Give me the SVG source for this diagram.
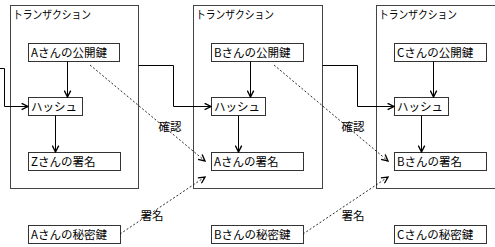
<svg xmlns="http://www.w3.org/2000/svg" width="495" height="247" viewBox="0 0 495 247">
<style>
text{font-family:"Noto Sans CJK JP","Liberation Sans",sans-serif;font-size:11.5px;fill:#000}
.tx{fill:#fff;stroke:#444;stroke-width:1}
.bx{fill:#fff;stroke:#333;stroke-width:1}
.ln{fill:none;stroke:#000;stroke-width:1}
.ds{fill:none;stroke:#111;stroke-width:0.9;stroke-dasharray:2,2}
</style>
<defs>
<marker id="ah" viewBox="0 0 10 10" refX="9" refY="5" markerWidth="8" markerHeight="8" markerUnits="userSpaceOnUse" orient="auto">
<path d="M1,1 L9,5 L1,9" fill="none" stroke="#000" stroke-width="1.7"/>
</marker>
</defs>
<g id="tx1"><rect class="tx" x="10.5" y="5.5" width="128" height="183"/><text x="13" y="19" textLength="78" lengthAdjust="spacingAndGlyphs">トランザクション</text></g>
<g id="tx2"><rect class="tx" x="193.5" y="5.5" width="129" height="183"/><text x="196" y="19" textLength="78" lengthAdjust="spacingAndGlyphs">トランザクション</text></g>
<g id="tx3"><rect class="tx" x="376.5" y="5.5" width="130" height="183"/><text x="379" y="19" textLength="78" lengthAdjust="spacingAndGlyphs">トランザクション</text></g>

<g id="pubA"><rect class="bx" x="28.5" y="43.5" width="91" height="18"/><text x="31" y="57">Aさんの公開鍵</text></g>
<g id="hash1"><rect class="bx" x="28.5" y="97.5" width="54" height="18"/><text x="31" y="111">ハッシュ</text></g>
<g id="sigZ"><rect class="bx" x="28.5" y="152.5" width="92" height="18"/><text x="31" y="166">Zさんの署名</text></g>

<g id="pubB"><rect class="bx" x="211.5" y="43.5" width="92" height="18"/><text x="214" y="57">Bさんの公開鍵</text></g>
<g id="hash2"><rect class="bx" x="211.5" y="97.5" width="54" height="18"/><text x="214" y="111">ハッシュ</text></g>
<g id="sigA"><rect class="bx" x="211.5" y="152.5" width="92" height="18"/><text x="214" y="166">Aさんの署名</text></g>

<g id="pubC"><rect class="bx" x="394.5" y="43.5" width="92" height="18"/><text x="397" y="57">Cさんの公開鍵</text></g>
<g id="hash3"><rect class="bx" x="394.5" y="97.5" width="54" height="18"/><text x="397" y="111">ハッシュ</text></g>
<g id="sigB"><rect class="bx" x="394.5" y="152.5" width="92" height="18"/><text x="397" y="166">Bさんの署名</text></g>

<g id="privA"><rect class="bx" x="28.5" y="225.5" width="92" height="18"/><text x="31" y="239">Aさんの秘密鍵</text></g>
<g id="privB"><rect class="bx" x="211.5" y="225.5" width="92" height="18"/><text x="214" y="239">Bさんの秘密鍵</text></g>
<g id="privC"><rect class="bx" x="394.5" y="225.5" width="92" height="18"/><text x="397" y="239">Cさんの秘密鍵</text></g>

<g id="connectors">
<path class="ln" d="M67.5,61.5 V97" marker-end="url(#ah)"/>
<path class="ln" d="M55.5,115.5 V152" marker-end="url(#ah)"/>
<path class="ln" d="M250.5,61.5 V97" marker-end="url(#ah)"/>
<path class="ln" d="M238.5,115.5 V152" marker-end="url(#ah)"/>
<path class="ln" d="M433.5,61.5 V97" marker-end="url(#ah)"/>
<path class="ln" d="M421.5,115.5 V152" marker-end="url(#ah)"/>
<path class="ln" d="M0,68.5 H4.5 V106.5 H28" marker-end="url(#ah)"/>
<path class="ln" d="M138.5,65.5 H173.5 V106.5 H211" marker-end="url(#ah)"/>
<path class="ln" d="M322.5,65.5 H357.5 V106.5 H394" marker-end="url(#ah)"/>
<path class="ds" d="M90,65 L205,161" marker-end="url(#ah)"/>
<path class="ds" d="M120,234 L205,177" marker-end="url(#ah)"/>
<path class="ds" d="M274,65 L388,161" marker-end="url(#ah)"/>
<path class="ds" d="M303,234 L388,177" marker-end="url(#ah)"/>
<text x="170" y="131" text-anchor="middle">確認</text>
<text x="152" y="220" text-anchor="middle">署名</text>
<text x="353" y="131" text-anchor="middle">確認</text>
<text x="353" y="220" text-anchor="middle">署名</text>
</g>
</svg>
